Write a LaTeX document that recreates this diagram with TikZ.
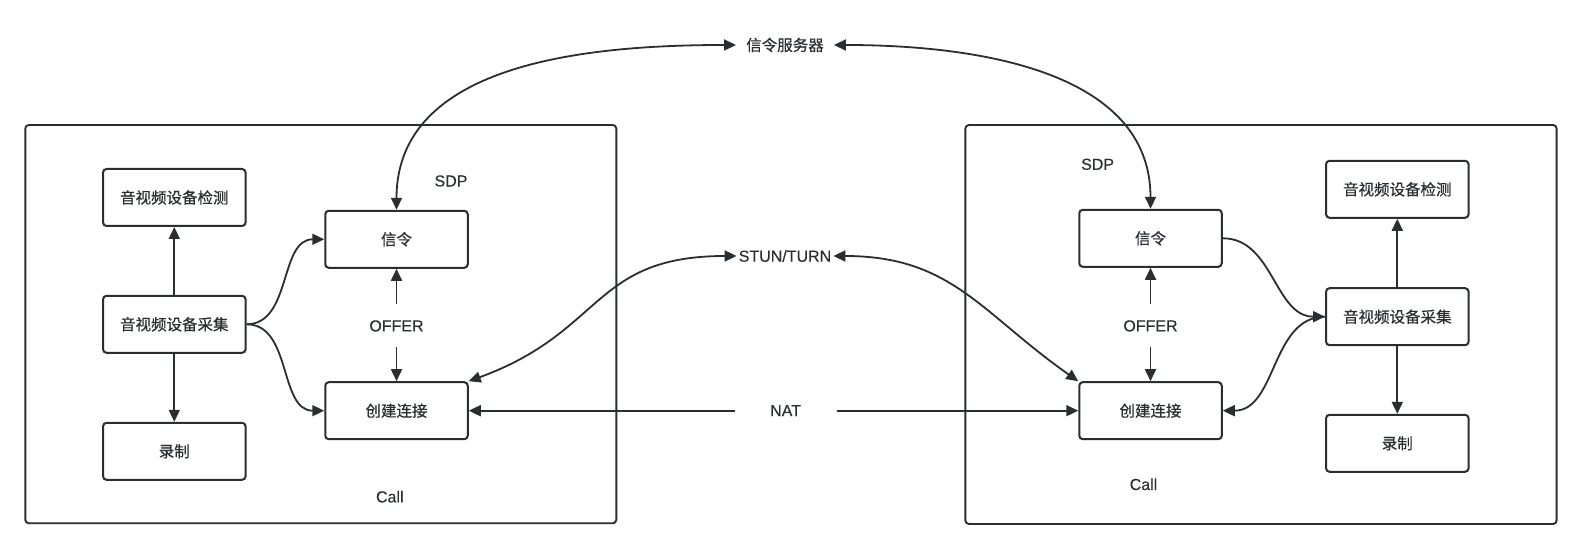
\documentclass[tikz,border=0pt]{standalone}
\usepackage{fontspec}
\setmainfont{Liberation Sans}
\newfontfamily\cjk[FakeBold=0.5]{Noto Sans CJK SC}
\newfontfamily\latn[FakeBold=0.2]{Liberation Sans}
\usetikzlibrary{arrows.meta}
\definecolor{ink}{HTML}{2B2E31}
\newcommand\cjkfont{\cjk\fontsize{15.5pt}{18pt}\selectfont}
\newcommand\latfont{\latn\fontsize{16pt}{19pt}\selectfont}
\tikzset{
  box/.style={draw=ink, line width=2pt, rounded corners=3.5pt, fill=white,
    minimum width=142.5pt, minimum height=57pt, inner sep=0pt, text=ink, font=\cjkfont},
  frame/.style={draw=ink, line width=1.9pt, rounded corners=3.5pt, inner sep=0pt},
  lbl/.style={text=ink, font=\latfont, inner sep=0pt},
  cjklbl/.style={text=ink, font=\cjkfont, inner sep=0pt},
  offer/.style={text=ink, font=\latfont, inner xsep=0pt, inner ysep=15.8pt,
    text height=11.5pt, text depth=0pt},
  conn/.style={draw=ink, line width=1.8pt, -{Triangle[length=12pt,width=11pt]}},
  bi/.style={draw=ink, line width=1.8pt,
    {Triangle[length=12pt,width=11pt]}-{Triangle[length=12pt,width=11pt]}}
}
\begin{document}
\begin{tikzpicture}[x=1pt,y=1pt]
\useasboundingbox (0,0) rectangle (1582,548);
\fill[white] (0,0) rectangle (1582,548);

% frames
\node[frame, minimum width=591pt, minimum height=398.3pt] (lframe) at (320.8,223.85) {};
\node[frame, minimum width=591.2pt, minimum height=399pt] (rframe) at (1261,223.5) {};

% left side
\node[box] (ldet) at (174.3,350.5) {音视频设备检测};
\node[box] (lcap) at (174.3,223.7) {音视频设备采集};
\node[box] (lrec) at (174.3,96.7) {录制};
\node[box] (lsig) at (396.5,308.7) {信令};
\node[box] (lconn) at (396.5,137.3) {创建连接};
\node[offer] (lofr) at (396.5,222.3) {OFFER};
\node[lbl] (lsdp) at (451,367) {SDP};
\node[lbl] (lcall) at (389.8,51.3) {Call};

% right side
\node[box] (rsig) at (1150.5,309.7) {信令};
\node[box] (rconn) at (1150.5,137.3) {创建连接};
\node[box] (rdet) at (1397.3,358.7) {音视频设备检测};
\node[box] (rcap) at (1397.3,231.3) {音视频设备采集};
\node[box] (rrec) at (1397.3,104.7) {录制};
\node[offer] (rofr) at (1150.5,222.3) {OFFER};
\node[lbl] (rsdp) at (1097.6,383.7) {SDP};
\node[lbl] (rcall) at (1143.5,63.7) {Call};

% middle
\node[cjklbl, inner xsep=10pt] (server) at (785,503) {信令服务器};
\node[lbl, inner xsep=2pt] (stun) at (785,292) {STUN/TURN};
\node[lbl, inner xsep=35.5pt] (nat) at (785.6,137.3) {NAT};

% left connectors
\draw[conn] (lcap.north) -- (ldet.south);
\draw[conn] (lcap.south) -- (lrec.north);
\draw[conn] (lcap.east) to[out=0,in=180] (lsig.west);
\draw[conn] (lcap.east) to[out=0,in=180] (lconn.west);
\draw[conn] (lofr.north) -- (lsig.south);
\draw[conn] (lofr.south) -- (lconn.north);

% right connectors
\draw[conn] (rcap.north) -- (rdet.south);
\draw[conn] (rcap.south) -- (rrec.north);
\draw[conn] (rsig.east) to[out=0,in=180] (rcap.west);
\draw[conn] (rcap.west) to[out=180,in=0] (rconn.east);
\draw[conn] (rofr.north) -- (rsig.south);
\draw[conn] (rofr.south) -- (rconn.north);

% middle connectors
\draw[bi] (server.west) to[out=180,in=90] (lsig.north);
\draw[bi] (server.east) to[out=0,in=90] (rsig.north);
\draw[bi] (stun.west) to[out=180,in=20,looseness=1.25] (lconn.north east);
\draw[bi] (stun.east) to[out=0,in=145,looseness=1.1] (rconn.north west);
\draw[conn] (nat.west) -- (lconn.east);
\draw[conn] (nat.east) -- (rconn.west);
\end{tikzpicture}
\end{document}
